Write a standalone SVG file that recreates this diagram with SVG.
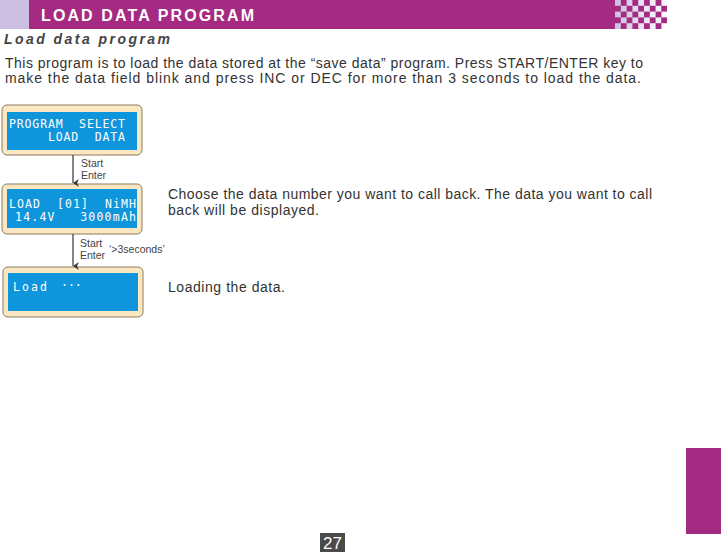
<svg xmlns="http://www.w3.org/2000/svg" width="721" height="552" viewBox="0 0 721 552">
<defs>
<linearGradient id="chk" x1="0" y1="0" x2="1" y2="0">
<stop offset="0" stop-color="#cbc0e2"/>
<stop offset="1" stop-color="#ffffff"/>
</linearGradient>
<marker id="ah" markerWidth="8" markerHeight="8" refX="4" refY="7" orient="auto" markerUnits="userSpaceOnUse">
<path d="M0,1 L4,7 L8,1 L4,3 Z" fill="#333"/>
</marker>
</defs>
<style>
.body{font-family:"Liberation Sans",Arial,sans-serif;font-size:14px;fill:#333}
.lbl{font-family:"Liberation Sans",Arial,sans-serif;font-size:10.5px;fill:#444}
.lcd{font-family:"DejaVu Sans Mono",monospace;font-size:11.5px;fill:#ffffff;white-space:pre}
.outer{fill:#fbe8c2;stroke:#8c7b5c;stroke-width:1}
.inner{fill:#0f95dc}
.conn{stroke:#333;stroke-width:1.2;fill:none}
</style>
<rect x="0" y="0" width="721" height="552" fill="#ffffff"/>
<g id="header">
<rect x="0" y="0" width="29" height="29" fill="#cdbfe3"/>
<rect x="29" y="0" width="586" height="29" fill="#a52a82"/>
<rect x="615" y="0" width="52" height="29" fill="url(#chk)"/>
<g fill="#a52a82">
<rect x="620.8" y="0" width="5.8" height="5.8"/><rect x="632.4" y="0" width="5.8" height="5.8"/><rect x="644" y="0" width="5.8" height="5.8"/><rect x="655.6" y="0" width="5.8" height="5.8"/>
<rect x="615" y="5.8" width="5.8" height="5.8"/><rect x="626.6" y="5.8" width="5.8" height="5.8"/><rect x="638.2" y="5.8" width="5.8" height="5.8"/><rect x="649.8" y="5.8" width="5.8" height="5.8"/><rect x="661.2" y="5.8" width="5.8" height="5.8"/>
<rect x="620.8" y="11.6" width="5.8" height="5.8"/><rect x="632.4" y="11.6" width="5.8" height="5.8"/><rect x="644" y="11.6" width="5.8" height="5.8"/><rect x="655.6" y="11.6" width="5.8" height="5.8"/>
<rect x="615" y="17.4" width="5.8" height="5.8"/><rect x="626.6" y="17.4" width="5.8" height="5.8"/><rect x="638.2" y="17.4" width="5.8" height="5.8"/><rect x="649.8" y="17.4" width="5.8" height="5.8"/><rect x="661.2" y="17.4" width="5.8" height="5.8"/>
<rect x="620.8" y="23.2" width="5.8" height="5.8"/><rect x="632.4" y="23.2" width="5.8" height="5.8"/><rect x="644" y="23.2" width="5.8" height="5.8"/><rect x="655.6" y="23.2" width="5.8" height="5.8"/>
</g>
<text x="41" y="21" font-family="Liberation Sans,Arial,sans-serif" font-size="16" font-weight="bold" fill="#ffffff" textLength="213" lengthAdjust="spacing">LOAD DATA PROGRAM</text>
</g>
<text x="4" y="44" font-family="Liberation Sans,Arial,sans-serif" font-size="14" font-weight="bold" font-style="italic" fill="#444" textLength="166" lengthAdjust="spacing">Load data program</text>
<text class="body" x="5" y="68" textLength="638" lengthAdjust="spacing">This program is to load the data stored at the “save data” program. Press START/ENTER key to</text>
<text class="body" x="5" y="83" textLength="636" lengthAdjust="spacing">make the data field blink and press INC or DEC for more than 3 seconds to load the data.</text>
<g id="node1">
<rect class="outer" x="2" y="105" width="140" height="50" rx="5"/>
<rect class="inner" x="7" y="112" width="130" height="38"/>
<text class="lcd" x="9" y="128" textLength="116" lengthAdjust="spacing" xml:space="preserve">PROGRAM  SELECT</text>
<text class="lcd" x="48" y="141" textLength="77" lengthAdjust="spacing" xml:space="preserve">LOAD  DATA</text>
</g>
<g id="node2">
<rect class="outer" x="2" y="184" width="140" height="50" rx="5"/>
<rect class="inner" x="7" y="189" width="130" height="39"/>
<text class="lcd" x="9" y="208" textLength="127" lengthAdjust="spacing" xml:space="preserve">LOAD  [01]  NiMH</text>
<text class="lcd" x="15" y="221" textLength="121" lengthAdjust="spacing" xml:space="preserve">14.4V   3000mAh</text>
</g>
<g id="node3">
<rect class="outer" x="3" y="267" width="140" height="50" rx="5"/>
<rect class="inner" x="8" y="273" width="130" height="38"/>
<text class="lcd" x="13" y="291" font-size="12.5" textLength="34" lengthAdjust="spacing">Load</text>
<text class="lcd" x="61" y="289" font-size="9">···</text>
</g>
<g id="connectors">
<line class="conn" x1="73" y1="155" x2="73" y2="183" marker-end="url(#ah)"/>
<line class="conn" x1="73" y1="234" x2="73" y2="266" marker-end="url(#ah)"/>
<text class="lbl" x="81" y="167">Start</text>
<text class="lbl" x="81" y="179">Enter</text>
<text class="lbl" x="80" y="247">Start</text>
<text class="lbl" x="80" y="259">Enter</text>
<text class="lbl" x="109" y="253">‘&gt;3seconds’</text>
</g>
<text class="body" x="168" y="199" textLength="484" lengthAdjust="spacing">Choose the data number you want to call back. The data you want to call</text>
<text class="body" x="168" y="215" textLength="151" lengthAdjust="spacing">back will be displayed.</text>
<text class="body" x="168" y="292" textLength="117" lengthAdjust="spacing">Loading the data.</text>
<rect x="686" y="448" width="35" height="86" fill="#a52a82"/>
<g id="page">
<rect x="320" y="533" width="25" height="19" fill="#4a4a4a"/>
<text x="332.5" y="549" text-anchor="middle" font-family="Liberation Sans,Arial,sans-serif" font-size="17" fill="#ffffff">27</text>
</g>
</svg>
